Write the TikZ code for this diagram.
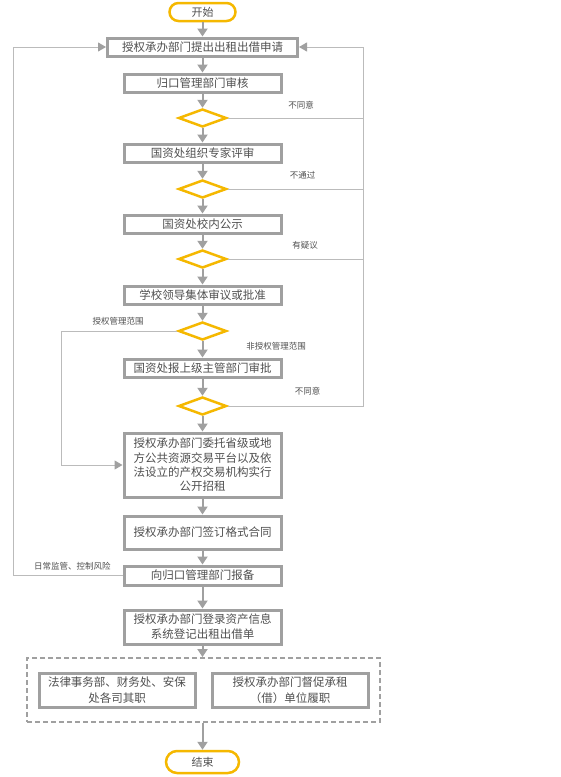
\documentclass[tikz,border=0pt]{standalone}
\usepackage{fontspec}
\setmainfont{Noto Sans CJK SC}
\usetikzlibrary{arrows.meta,shapes.geometric}
\definecolor{ygold}{HTML}{F5B800}
\definecolor{bgray}{HTML}{A0A0A0}
\definecolor{lgray}{HTML}{BBBBBB}
\definecolor{tgray}{HTML}{505050}
\begin{document}
\begin{tikzpicture}[x=1pt,y=-1pt,
 term/.style={draw=ygold,line width=2.5pt,rounded corners=9pt,minimum width=66pt,minimum height=18pt,inner sep=0pt,font=\fontsize{11}{13}\selectfont,text=tgray},
 proc/.style={draw=bgray,line width=3pt,minimum width=157pt,minimum height=18pt,inner sep=0pt,font=\fontsize{11.5}{14.3}\selectfont,text=tgray,align=center},
 dec/.style={diamond,draw=ygold,line width=2.5pt,minimum width=48pt,minimum height=18pt,inner sep=0pt},
 flow/.style={draw=bgray,line width=2pt,-{Triangle[width=10pt,length=8pt]}},
 side/.style={draw=lgray,line width=1pt},
 sidearr/.style={side,-{Triangle[width=9pt,length=8pt,color=bgray]}},
 lab/.style={font=\fontsize{8.5}{10}\selectfont,text=tgray,inner sep=0pt}]
\useasboundingbox[fill=white] (0,0) rectangle (560,777);
\node[term] (start) at (202.5,12) {开始};
\node[proc,minimum width=190pt] (b1) at (202.5,47) {授权承办部门提出出租出借申请};
\node[proc] (b2) at (202.5,83) {归口管理部门审核};
\node[dec] (d1) at (202.5,118) {};
\node[proc] (b3) at (202.5,153) {国资处组织专家评审};
\node[dec] (d2) at (202.5,189) {};
\node[proc] (b4) at (202.5,224) {国资处校内公示};
\node[dec] (d3) at (202.5,259) {};
\node[proc] (b5) at (202.5,295) {学校领导集体审议或批准};
\node[dec] (d4) at (202.5,331) {};
\node[proc] (b6) at (202.5,368) {国资处报上级主管部门审批};
\node[dec] (d5) at (202.5,406) {};
\node[proc,minimum height=64pt,text width=146pt] (b7) at (202.5,465) {授权承办部门委托省级或地\\方公共资源交易平台以及依\\法设立的产权交易机构实行\\公开招租};
\node[proc,minimum height=33pt] (b8) at (202.5,532.5) {授权承办部门签订格式合同};
\node[proc,minimum height=19pt] (b9) at (202.5,575.5) {向归口管理部门报备};
\node[proc,minimum height=34pt,font=\fontsize{11.5}{15}\selectfont] (b10) at (202.5,627) {授权承办部门登录资产信息\\系统登记出租出借单};
\node[draw=bgray,line width=2pt,dash pattern=on 5pt off 3pt,minimum width=353pt,minimum height=64pt,inner sep=0pt] (grp) at (203.5,690) {};
\node[proc,minimum width=156pt,minimum height=34pt,font=\fontsize{11.5}{16}\selectfont] (b11) at (117,690) {法律事务部、财务处、安保\\处各司其职};
\node[proc,minimum width=156pt,minimum height=34pt,font=\fontsize{11.5}{16}\selectfont] (b12) at (290,690) {授权承办部门督促承租\\（借）单位履职};
\node[term,minimum width=73pt,minimum height=22pt,rounded corners=11pt] (end) at (202.5,762) {结束};
% main flow
\draw[flow] (start) -- (b1);
\draw[flow] (b1) -- (b2);
\draw[flow] (b2) -- (d1);
\draw[flow] (d1) -- (b3);
\draw[flow] (b3) -- (d2);
\draw[flow] (d2) -- (b4);
\draw[flow] (b4) -- (d3);
\draw[flow] (d3) -- (b5);
\draw[flow] (b5) -- (d4);
\draw[flow] (d4) -- (b6);
\draw[flow] (b6) -- (d5);
\draw[flow] (d5) -- (b7);
\draw[flow] (b7) -- (b8);
\draw[flow] (b8) -- (b9);
\draw[flow] (b9) -- (b10);
\draw[flow] (b10.south) -- (b10.south |- grp.north);
\draw[flow] (grp.south -| end.north) -- (end.north);
% side loops
\coordinate (rx) at (363,47);
\draw[side] (d1.east) -- (d1.east -| rx);
\draw[side] (d2.east) -- (d2.east -| rx);
\draw[side] (d3.east) -- (d3.east -| rx);
\draw[sidearr] (d5.east) -- (d5.east -| rx) -- (rx) -- (b1.east);
\coordinate (lx) at (13,47);
\draw[sidearr] (b9.west) -- (b9.west -| lx) -- (lx) -- (b1.west);
\coordinate (lx2) at (61,331);
\draw[sidearr] (d4.west) -- (lx2) -- (lx2 |- b7.west) -- (b7.west);
% labels
\node[lab] (l1) at (301,105) {不同意};
\node[lab] (l2) at (302.5,175) {不通过};
\node[lab] (l3) at (305,245) {有疑议};
\node[lab] (l4) at (118,321) {授权管理范围};
\node[lab] (l5) at (276,346) {非授权管理范围};
\node[lab] (l6) at (307.5,391) {不同意};
\node[lab] (l7) at (72.5,566) {日常监管、控制风险};
\end{tikzpicture}
\end{document}
